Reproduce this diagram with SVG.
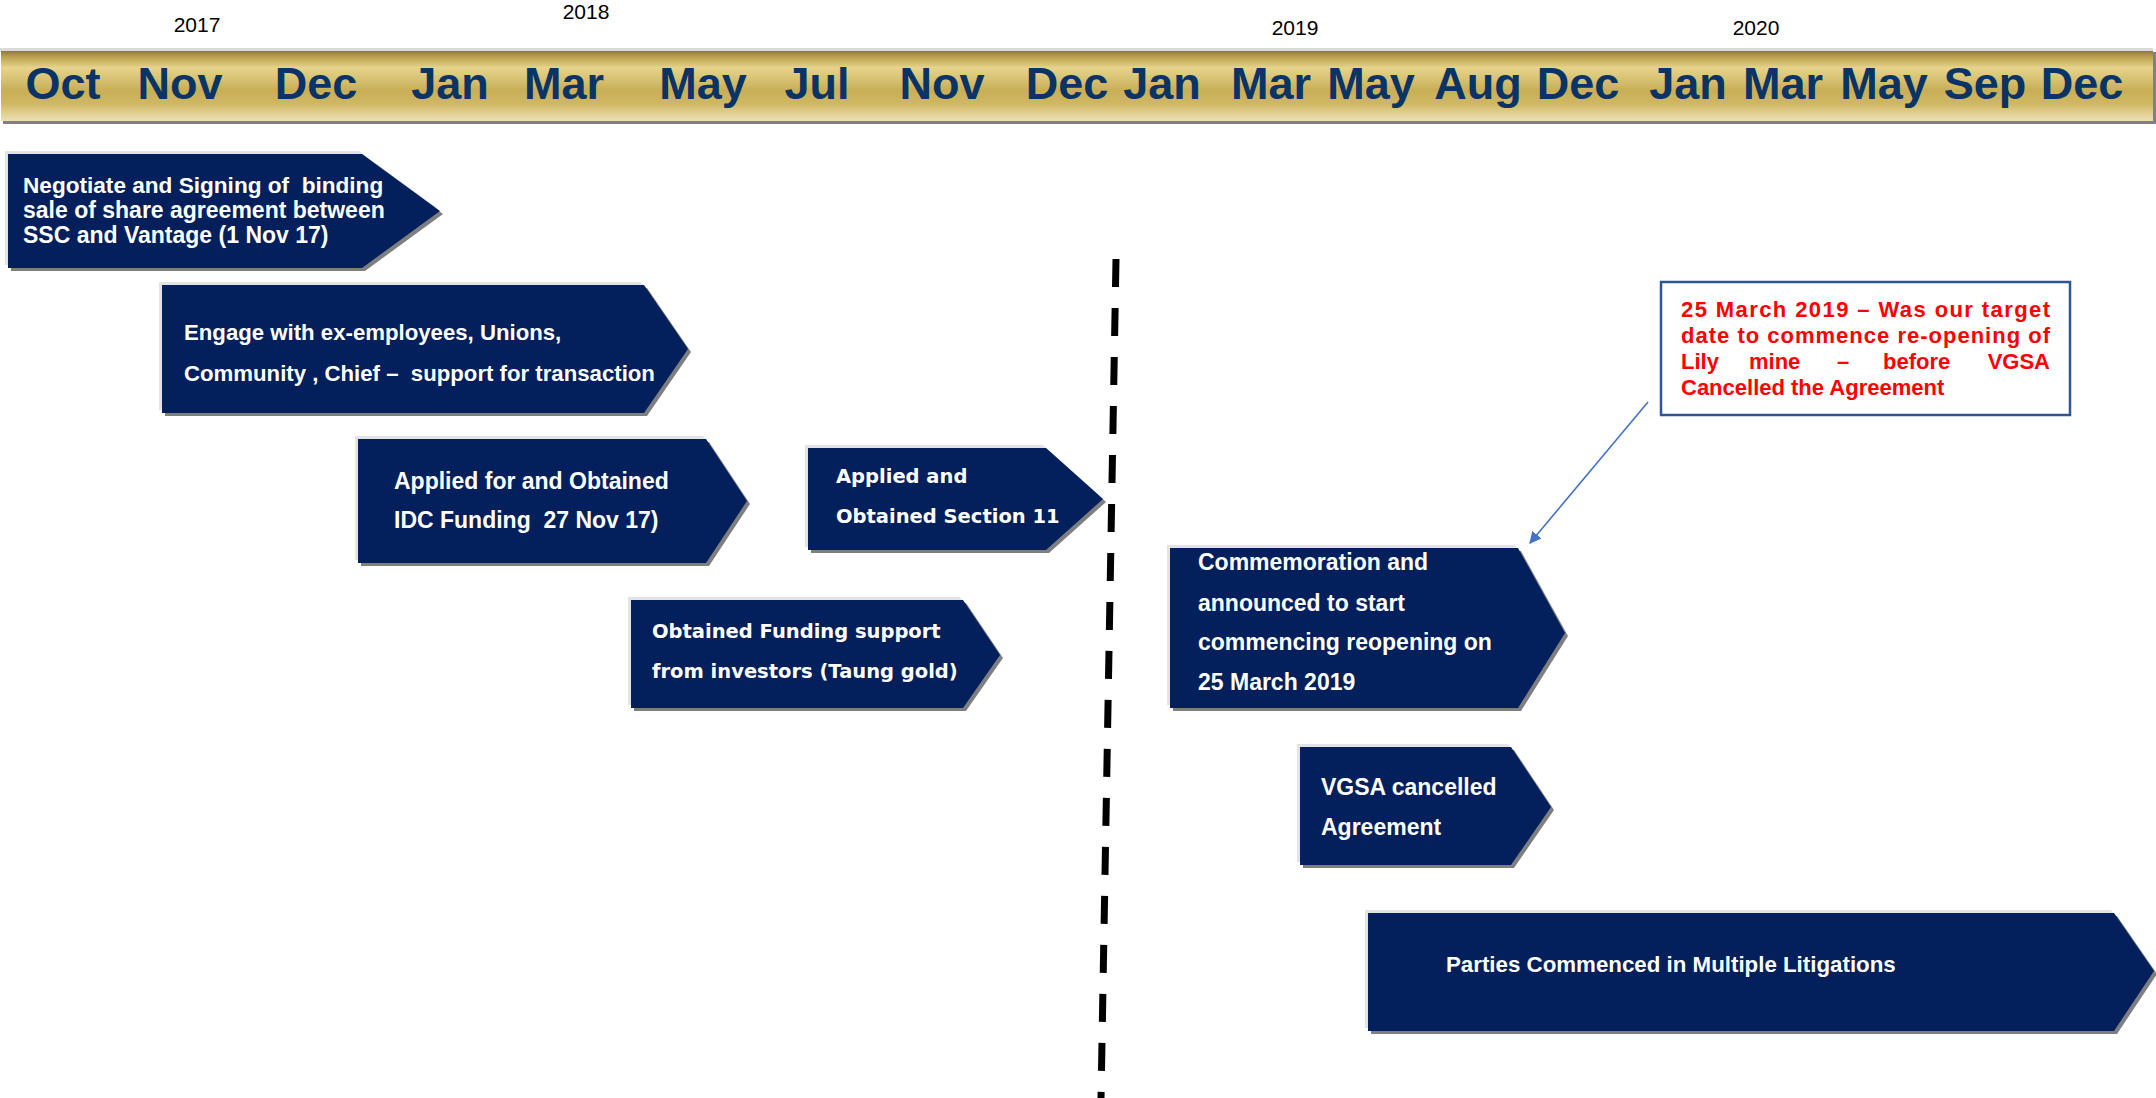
<svg xmlns="http://www.w3.org/2000/svg" width="2156" height="1098" viewBox="0 0 2156 1098">
  <defs>
    <linearGradient id="gold" x1="0" y1="0" x2="0" y2="1">
      <stop offset="0" stop-color="#8E7A30"/>
      <stop offset="0.08" stop-color="#B8A04E"/>
      <stop offset="0.24" stop-color="#E6D48A"/>
      <stop offset="0.42" stop-color="#D6C070"/>
      <stop offset="0.56" stop-color="#C8AE56"/>
      <stop offset="0.76" stop-color="#D0B864"/>
      <stop offset="0.9" stop-color="#E2D296"/>
      <stop offset="1" stop-color="#ECE0B4"/>
    </linearGradient>
    <marker id="arrow" viewBox="0 0 10 10" refX="9" refY="5" markerWidth="12" markerHeight="12" markerUnits="userSpaceOnUse" orient="auto">
      <path d="M0,0 L10,5 L0,10 z" fill="#4472C4"/>
    </marker>
  </defs>
  <style>
    .month { font-family: "Liberation Sans", Arial, sans-serif; font-weight: bold; font-size: 45px; fill: #0B3466; text-anchor: middle; }
    .year { font-family: "Liberation Sans", Arial, sans-serif; font-size: 21px; fill: #000000; text-anchor: middle; }
    .body { fill: #03205C; }
    .hi { fill: #E3E3E3; }
    .sh { fill: #7F7F7F; }
    .t { font-family: "Liberation Sans", Arial, sans-serif; font-weight: bold; font-size: 23px; fill: #FFFFFF; white-space: pre; }
    .tw { font-family: "DejaVu Sans", Verdana, sans-serif; font-weight: bold; font-size: 19.5px; fill: #FFFFFF; }
    .red { font-family: "Liberation Sans", Arial, sans-serif; font-weight: bold; font-size: 22px; fill: #FF0000; }
  </style>

  <rect width="2156" height="1098" fill="#FFFFFF"/>

  <!-- timeline bar -->
  <g id="timeline">
    <rect x="0" y="48" width="2153" height="4" fill="#DADADA"/>
    <rect x="3" y="52" width="2153" height="72" fill="#808080"/>
    <rect x="1" y="51" width="2152" height="70" fill="url(#gold)"/>
    <text class="year" x="197" y="32">2017</text>
    <text class="year" x="586" y="19">2018</text>
    <text class="year" x="1295" y="35">2019</text>
    <text class="year" x="1756" y="35">2020</text>
    <text class="month" x="63" y="99">Oct</text>
    <text class="month" x="180" y="99">Nov</text>
    <text class="month" x="316" y="99">Dec</text>
    <text class="month" x="450" y="99">Jan</text>
    <text class="month" x="564" y="99">Mar</text>
    <text class="month" x="703" y="99">May</text>
    <text class="month" x="817" y="99">Jul</text>
    <text class="month" x="942" y="99">Nov</text>
    <text class="month" x="1067" y="99">Dec</text>
    <text class="month" x="1162" y="99">Jan</text>
    <text class="month" x="1271" y="99">Mar</text>
    <text class="month" x="1371" y="99">May</text>
    <text class="month" x="1478" y="99">Aug</text>
    <text class="month" x="1578" y="99">Dec</text>
    <text class="month" x="1688" y="99">Jan</text>
    <text class="month" x="1783" y="99">Mar</text>
    <text class="month" x="1884" y="99">May</text>
    <text class="month" x="1985" y="99">Sep</text>
    <text class="month" x="2082" y="99">Dec</text>
  </g>

  <!-- connectors -->
  <g id="connectors">
    <line x1="1116" y1="259" x2="1101" y2="1098" stroke="#000000" stroke-width="7" stroke-dasharray="28 21"/>
    <line x1="1648" y1="402" x2="1530" y2="543" stroke="#4472C4" stroke-width="1.6" marker-end="url(#arrow)"/>
  </g>

  <!-- node 1 -->
  <g id="node-negotiate">
    <polygon class="hi" transform="translate(-3,-3)" points="8,154 362,154 440,211 362,268 8,268"/>
    <polygon class="sh" transform="translate(3,3)" points="8,154 362,154 440,211 362,268 8,268"/>
    <polygon class="body" points="8,154 362,154 440,211 362,268 8,268"/>
    <text class="t" x="23" y="193" style="font-size:22.6px" xml:space="preserve">Negotiate and Signing of  binding</text>
    <text class="t" x="23" y="218">sale of share agreement between</text>
    <text class="t" x="23" y="243">SSC and Vantage (1 Nov 17)</text>
  </g>

  <!-- node 2 -->
  <g id="node-engage">
    <polygon class="hi" transform="translate(-3,-3)" points="162,285 644,285 688,349 644,413 162,413"/>
    <polygon class="sh" transform="translate(3,3)" points="162,285 644,285 688,349 644,413 162,413"/>
    <polygon class="body" points="162,285 644,285 688,349 644,413 162,413"/>
    <text class="t" x="184" y="340" style="font-size:22.2px">Engage with ex-employees, Unions,</text>
    <text class="t" x="184" y="381" style="font-size:22.2px" xml:space="preserve">Community , Chief –  support for transaction</text>
  </g>

  <!-- node 3 -->
  <g id="node-idc">
    <polygon class="hi" transform="translate(-3,-3)" points="358,439 706,439 747,501 706,563 358,563"/>
    <polygon class="sh" transform="translate(3,3)" points="358,439 706,439 747,501 706,563 358,563"/>
    <polygon class="body" points="358,439 706,439 747,501 706,563 358,563"/>
    <text class="t" x="394" y="489">Applied for and Obtained</text>
    <text class="t" x="394" y="528" xml:space="preserve">IDC Funding  27 Nov 17)</text>
  </g>

  <!-- node 4 -->
  <g id="node-section11">
    <polygon class="hi" transform="translate(-3,-3)" points="808,448 1046,448 1103,499 1046,550 808,550"/>
    <polygon class="sh" transform="translate(3,3)" points="808,448 1046,448 1103,499 1046,550 808,550"/>
    <polygon class="body" points="808,448 1046,448 1103,499 1046,550 808,550"/>
    <text class="tw" x="836" y="483">Applied and</text>
    <text class="tw" x="836" y="523">Obtained Section 11</text>
  </g>

  <!-- node 5 -->
  <g id="node-taung">
    <polygon class="hi" transform="translate(-3,-3)" points="631,600 963,600 1000,655 963,708 631,708"/>
    <polygon class="sh" transform="translate(3,3)" points="631,600 963,600 1000,655 963,708 631,708"/>
    <polygon class="body" points="631,600 963,600 1000,655 963,708 631,708"/>
    <text class="tw" x="652" y="638">Obtained Funding support</text>
    <text class="tw" x="652" y="678">from investors (Taung gold)</text>
  </g>

  <!-- node 6 -->
  <g id="node-commemoration">
    <polygon class="hi" transform="translate(-3,-3)" points="1170,548 1518,548 1565,633 1518,708 1170,708"/>
    <polygon class="sh" transform="translate(3,3)" points="1170,548 1518,548 1565,633 1518,708 1170,708"/>
    <polygon class="body" points="1170,548 1518,548 1565,633 1518,708 1170,708"/>
    <text class="t" x="1198" y="570">Commemoration and</text>
    <text class="t" x="1198" y="611">announced to start</text>
    <text class="t" x="1198" y="650">commencing reopening on</text>
    <text class="t" x="1198" y="690">25 March 2019</text>
  </g>

  <!-- node 7 -->
  <g id="node-cancelled">
    <polygon class="hi" transform="translate(-3,-3)" points="1300,747 1511,747 1551,807 1511,865 1300,865"/>
    <polygon class="sh" transform="translate(3,3)" points="1300,747 1511,747 1551,807 1511,865 1300,865"/>
    <polygon class="body" points="1300,747 1511,747 1551,807 1511,865 1300,865"/>
    <text class="t" x="1321" y="795">VGSA cancelled</text>
    <text class="t" x="1321" y="835">Agreement</text>
  </g>

  <!-- node 8 -->
  <g id="node-litigations">
    <polygon class="hi" transform="translate(-3,-3)" points="1368,913 2114,913 2154,971 2114,1031 1368,1031"/>
    <polygon class="sh" transform="translate(3,3)" points="1368,913 2114,913 2154,971 2114,1031 1368,1031"/>
    <polygon class="body" points="1368,913 2114,913 2154,971 2114,1031 1368,1031"/>
    <text class="t" x="1446" y="972" style="font-size:22.3px">Parties Commenced in Multiple Litigations</text>
  </g>

  <!-- note box -->
  <g id="note-target">
    <rect x="1661" y="282" width="409" height="133" fill="#FFFFFF" stroke="#2F5597" stroke-width="2.5"/>
    <text class="red" x="1681" y="317" textLength="369" lengthAdjust="spacing">25 March 2019 – Was our target</text>
    <text class="red" x="1681" y="343" textLength="369" lengthAdjust="spacing">date to commence re-opening of</text>
    <text class="red" y="369"><tspan x="1681">Lily</tspan><tspan x="1749">mine</tspan><tspan x="1837">–</tspan><tspan x="1883">before</tspan><tspan x="2050" text-anchor="end">VGSA</tspan></text>
    <text class="red" x="1681" y="395">Cancelled the Agreement</text>
  </g>
</svg>
